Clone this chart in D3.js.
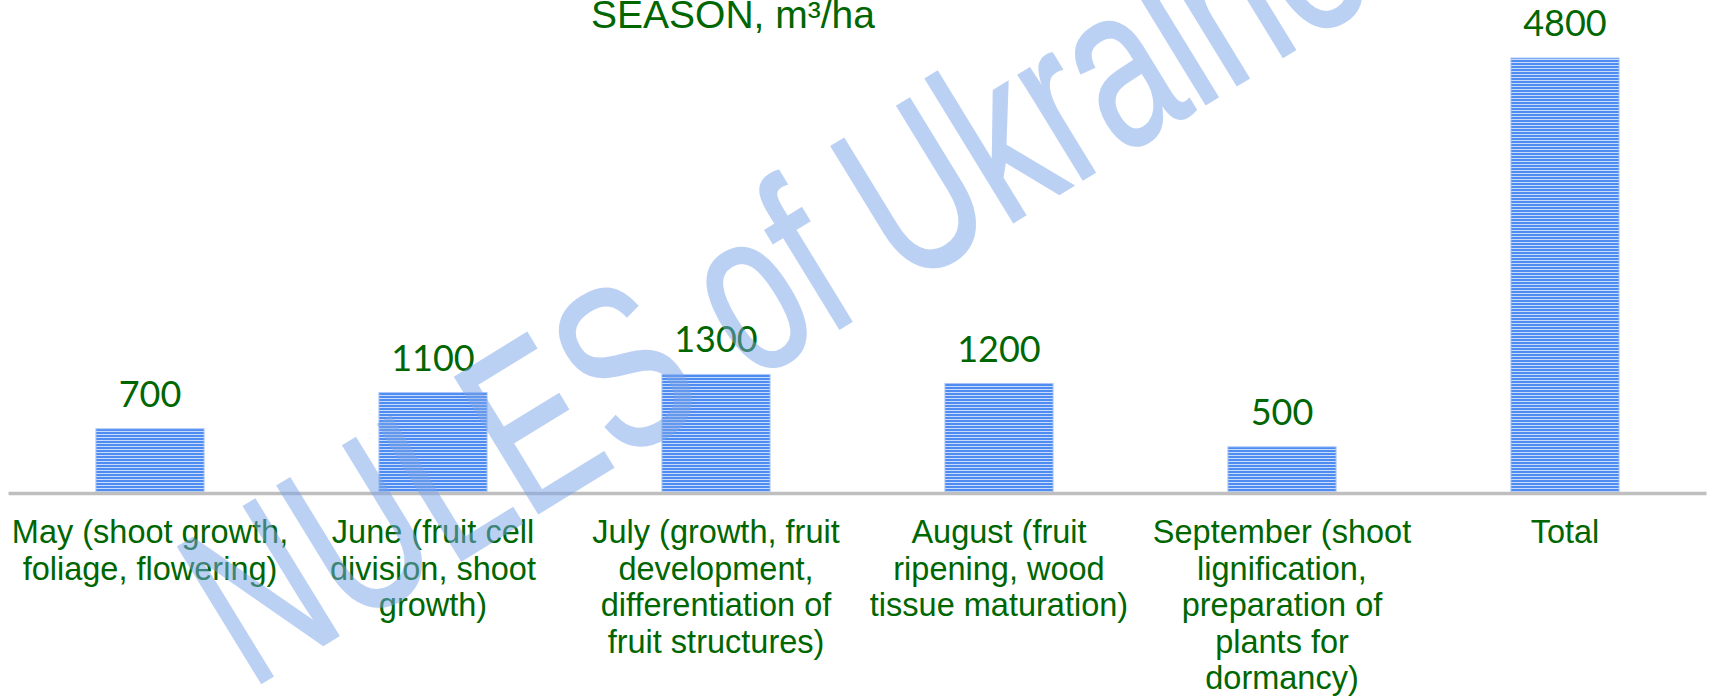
<!DOCTYPE html>
<html>
<head>
<meta charset="utf-8">
<script src="https://cdn.jsdelivr.net/npm/d3@7"></script>
<style>
  body { margin: 0; background: #fff; }
  .chart svg { display: block; }
</style>
</head>
<body>
<div class="chart"></div>
<script>
// categories (tick label lines as they wrap in the picture)
const categories = ["May", "June", "July", "August", "September", "Total"];
const tickLines = [
    ["May (shoot growth,", "foliage, flowering)"],
    ["June (fruit cell", "division, shoot", "growth)"],
    ["July (growth, fruit", "development,", "differentiation of", "fruit structures)"],
    ["August (fruit", "ripening, wood", "tissue maturation)"],
    ["September (shoot", "lignification,", "preparation of", "plants for", "dormancy)"],
    ["Total"]
];
// water need, m3/ha
const values = [700, 1100, 1300, 1200, 500, 4800];
const titleText = "SEASON, m\u00b3/ha";
const watermarkText = "NULES of Ukraine";

const width = 1710;
const height = 697;
const green = "#006600";

const svg = d3.select(".chart")
    .append("svg")
    .attr("width", width)
    .attr("height", height);

// striped fill like the office pattern
const defs = svg.append("defs");
const pat = defs.append("pattern")
    .attr("id", "stripes")
    .attr("patternUnits", "userSpaceOnUse")
    .attr("width", 10)
    .attr("height", 3);
pat.append("rect").attr("width", 10).attr("height", 3).attr("fill", "#c9dbfa");
pat.append("rect").attr("width", 10).attr("height", 2).attr("fill", "#4f8cf2");

const x = d3.scaleBand()
    .domain(categories)
    .range([8.5, 1706.5])
    .paddingInner(0.618)
    .paddingOuter(0.309);

const y = d3.scaleLinear()
    .domain([0, 4800])
    .range([492, 58]);

// title (second line of the chart title, first one is cut off)
svg.append("text")
    .attr("x", 733)
    .attr("y", 28)
    .attr("text-anchor", "middle")
    .style("font-family", "'Liberation Sans', Arial, sans-serif")
    .style("font-size", "39px")
    .style("fill", green)
    .text(titleText);

// bars
svg.append("g")
    .selectAll("rect")
    .data(values)
    .join("rect")
        .attr("x", (d, i) => x(categories[i]))
        .attr("y", d => y(d))
        .attr("width", x.bandwidth())
        .attr("height", d => y(0) - y(d))
        .attr("fill", "url(#stripes)")
        .attr("stroke", "#a9c6f7")
        .attr("stroke-width", 1);

// axis line
const xAxis = svg.append("g")
    .attr("transform", `translate(0, ${y(0) + 1.5})`)
    .call(d3.axisBottom(x).tickSize(0).tickFormat(""));
xAxis.select(".domain")
    .attr("d", `M${x.range()[0]},0H${x.range()[1]}`)
    .attr("stroke", "#bfbfbf")
    .attr("stroke-width", 3.5);

// value labels
svg.append("g")
    .selectAll("text")
    .data(values)
    .join("text")
        .attr("x", (d, i) => x(categories[i]) + x.bandwidth() / 2)
        .attr("y", d => y(d) - 22)
        .attr("text-anchor", "middle")
        .style("font-family", "Lato, 'Open Sans', sans-serif")
        .style("font-size", "36px")
        .style("fill", green)
        .text(d => d);

// category labels
const labels = svg.append("g")
    .selectAll("text")
    .data(tickLines)
    .join("text")
        .attr("text-anchor", "middle")
        .style("font-family", "'Liberation Sans', Arial, sans-serif")
        .style("font-size", "32.5px")
        .style("fill", green);
labels.each(function(lines, i) {
    d3.select(this).selectAll("tspan")
        .data(lines)
        .join("tspan")
            .attr("x", x(categories[i]) + x.bandwidth() / 2)
            .attr("y", (l, j) => 543 + j * 36.5)
            .text(l => l);
});

// watermark on top (narrow, tall letters)
svg.append("g")
    .attr("opacity", 0.5)
    .append("text")
    .attr("transform", "translate(250, 690) rotate(-31.5) scale(0.7, 1)")
    .style("font-family", "'Liberation Sans', Arial, sans-serif")
    .style("font-size", "232px")
    .style("fill", "#7aa4ea")
    .style("stroke", "#7aa4ea")
    .style("stroke-width", 2)
    .text(watermarkText);
</script>
</body>
</html>
